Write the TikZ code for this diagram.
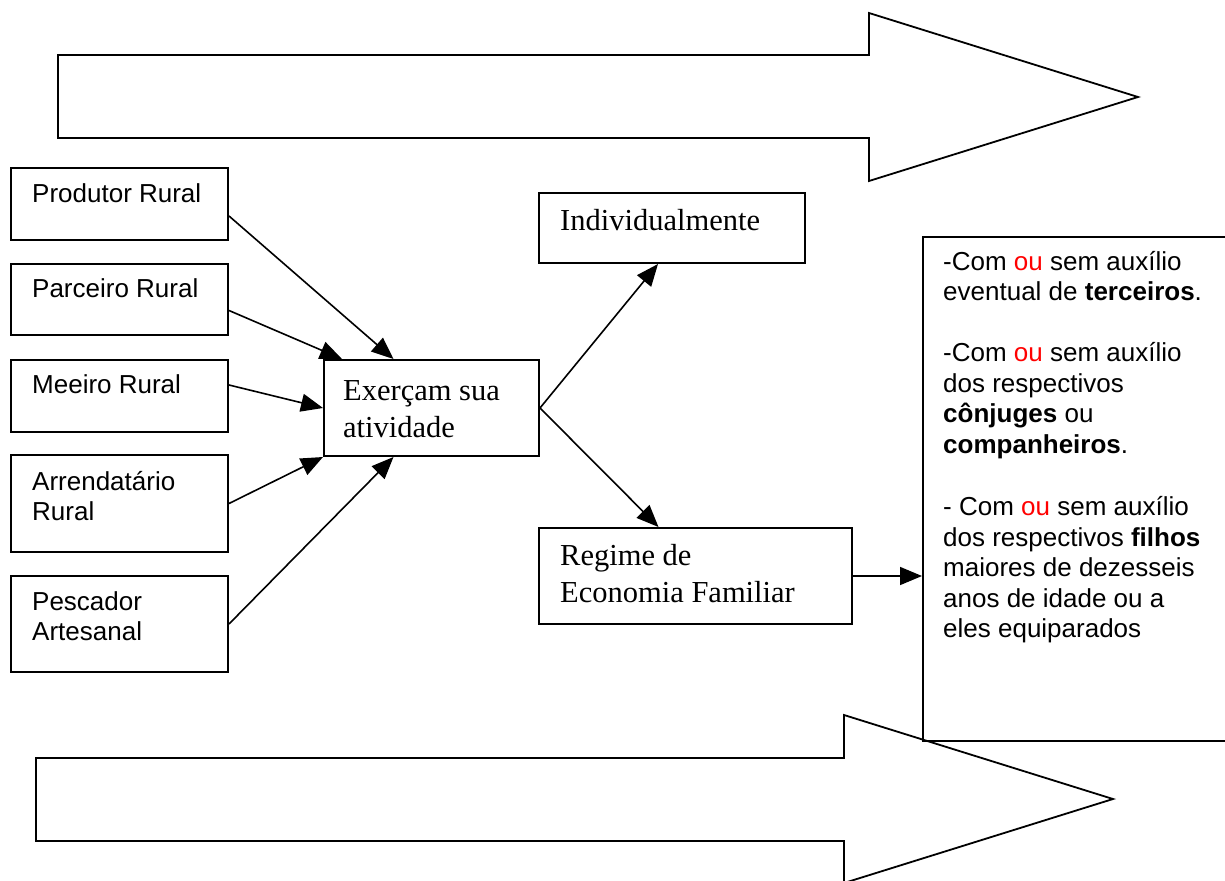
\documentclass[tikz,border=0pt]{standalone}
\usepackage{fontspec}
\setmainfont{Liberation Serif}
\newfontfamily\arialfont{Liberation Sans}
\usepackage{xcolor}
\usetikzlibrary{arrows.meta,positioning,calc}
\newcommand{\topstrut}{\rule{0pt}{30pt}}

\begin{document}
\begin{tikzpicture}[
  x=1pt, y=-1pt,
  >={Triangle[length=22pt,width=18pt]},
  box/.style={draw, line width=2pt, inner sep=0pt, anchor=north west},
  sans/.style={anchor=north west, inner sep=0pt, align=left,
               font=\arialfont\fontsize{26}{30.5}\selectfont},
  serif/.style={anchor=north west, inner sep=0pt, align=left,
                font=\fontsize{30.5}{37}\selectfont},
  link/.style={->, line width=1.6pt},
  bigarrow/.style={draw, line width=1.8pt, line join=miter},
]
\path[fill=white, use as bounding box] (0,0) rectangle (1225,880);

% Big arrows (top and bottom)
\draw[bigarrow] (58,55) -- (869,55) -- (869,13) -- (1138,97) -- (869,181) -- (869,138) -- (58,138) -- cycle;
\draw[bigarrow] (36,758) -- (844,758) -- (844,715) -- (1113,799) -- (844,883) -- (844,841) -- (36,841) -- cycle;

% Left column: categories
\node[box, minimum width=217pt, minimum height=72pt] (prod) at (10,167) {};
\node[sans] (prodT) at ([shift={(22,5)}]prod.north west) {\topstrut Produtor Rural};
\node[box, minimum width=217pt, minimum height=71pt] (parc) at (10,263) {};
\node[sans] (parcT) at ([shift={(22,4)}]parc.north west) {\topstrut Parceiro Rural};
\node[box, minimum width=217pt, minimum height=72pt] (meei) at (10,359) {};
\node[sans] (meeiT) at ([shift={(22,4)}]meei.north west) {\topstrut Meeiro Rural};
\node[box, minimum width=217pt, minimum height=97pt] (arre) at (10,454) {};
\node[sans] (arreT) at ([shift={(22,6)}]arre.north west) {\topstrut Arrendatário\\Rural};
\node[box, minimum width=217pt, minimum height=96pt] (pesc) at (10,575) {};
\node[sans] (pescT) at ([shift={(22,5)}]pesc.north west) {\topstrut Pescador\\Artesanal};

% Middle: activity
\node[box, minimum width=215pt, minimum height=96pt] (exer) at (323,359) {};
\node[serif] (exerT) at ([shift={(20,11)}]exer.north west) {\topstrut Exerçam sua\\atividade};

% Right: modes
\node[box, minimum width=266pt, minimum height=70pt] (indi) at (538,192) {};
\node[serif] (indiT) at ([shift={(22,8)}]indi.north west) {\topstrut Individualmente};
\node[box, minimum width=313pt, minimum height=96pt] (regi) at (538,527) {};
\node[serif] (regiT) at ([shift={(22,8)}]regi.north west) {\topstrut Regime de\\Economia Familiar};

% Conditions box (runs off the right edge)
\node[box, minimum width=320pt, minimum height=504pt] (cond) at (922,236) {};
\node[sans] (condT) at ([shift={(21,4)}]cond.north west)
  {\topstrut -Com \textcolor{red}{ou} sem auxílio\\
   eventual de \textbf{terceiros}.\\[30.5pt]
   -Com \textcolor{red}{ou} sem auxílio\\
   dos respectivos\\
   \textbf{cônjuges} ou\\
   \textbf{companheiros}.\\[32pt]
   - Com \textcolor{red}{ou} sem auxílio\\
   dos respectivos \textbf{filhos}\\
   maiores de dezesseis\\
   anos de idade ou a\\
   eles equiparados};

% Connectors
\draw[link] ([yshift=-12pt]prod.east) -- ([xshift=-38pt]exer.north);
\draw[link] ([yshift=-11pt]parc.east) -- ([xshift=19pt]exer.north west);
\draw[link] ([yshift=11pt]meei.east) -- (exer.west);
\draw[link] (arre.east) -- (exer.south west);
\draw[link] (pesc.east) -- ([xshift=-38pt]exer.south);
\draw[link] (exer.east) -- ([xshift=-14pt]indi.south);
\draw[link] (exer.east) -- ([xshift=-37pt]regi.north);
\draw[link] (regi.east) -- (regi.east -| cond.west);
\end{tikzpicture}
\end{document}
